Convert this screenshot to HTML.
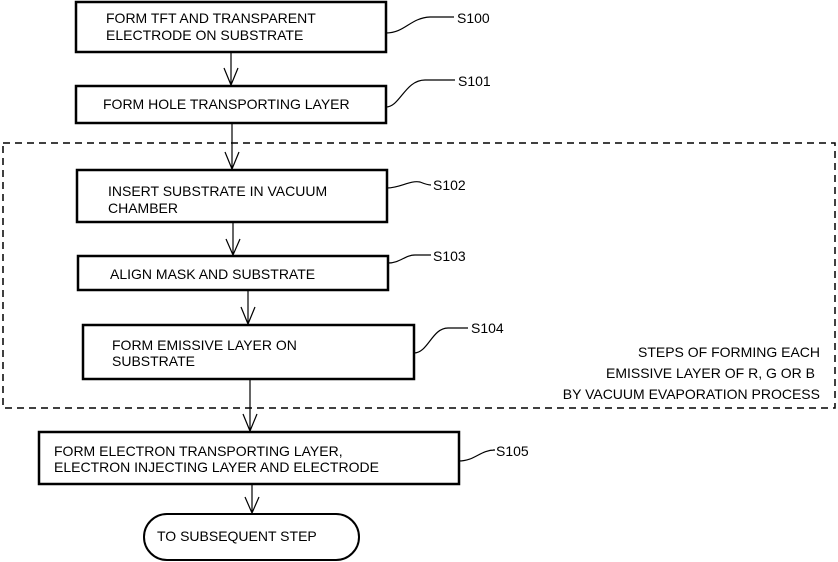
<!DOCTYPE html>
<html><head><meta charset="utf-8"><style>
html,body{margin:0;padding:0;background:#fff;}
svg{display:block;}
text{font-family:"Liberation Sans",Arial,sans-serif;font-size:14px;fill:#000;}
</style></head><body>
<svg width="838" height="562" viewBox="0 0 838 562" xmlns="http://www.w3.org/2000/svg">
<g fill="none" stroke="#000">
<rect x="76" y="2" width="310" height="50" stroke-width="2.5"/>
<rect x="76" y="86" width="310" height="37" stroke-width="2.5"/>
<rect x="3" y="143" width="832" height="265" stroke-width="1.5" stroke-dasharray="7,5"/>
<rect x="77" y="170" width="310" height="52" stroke-width="2.5"/>
<rect x="78" y="256" width="310" height="34" stroke-width="2.5"/>
<rect x="83" y="325" width="331" height="54" stroke-width="2.5"/>
<rect x="39" y="432" width="420" height="52" stroke-width="2.5"/>
<rect x="144" y="514" width="215" height="46" rx="23" stroke-width="2"/>
<g stroke-width="1.2">
<path d="M231 52V86M224 68L231 85L238 68"/>
<path d="M232 123V170M225 152L232 169L239 152"/>
<path d="M233 222V256M226 239L233 255L240 239"/>
<path d="M248 290V325M241 307L248 324L255 307"/>
<path d="M250 379V432M243 414L250 431L257 414"/>
<path d="M252 484V514M245 497L252 513L259 497"/>
<path d="M386 33C405 33 410 18 430 17L454 17"/>
<path d="M386 107C400 107 405 80 425 80L455 80"/>
<path d="M387 188C400 188 410 180 420 182C425 184 428 185 431 185"/>
<path d="M388 263C400 263 405 255 415 255L431 255"/>
<path d="M414 353C428 353 432 328 448 328L468 328"/>
<path d="M459 461C475 461 480 450 495 450L493 450"/>
</g>
</g>
<text x="106" y="23">FORM TFT AND TRANSPARENT</text>
<text x="106" y="40">ELECTRODE ON SUBSTRATE</text>
<text x="103" y="109">FORM HOLE TRANSPORTING  LAYER</text>
<text x="108" y="196">INSERT SUBSTRATE IN VACUUM</text>
<text x="108" y="213">CHAMBER</text>
<text x="110" y="279">ALIGN  MASK AND SUBSTRATE</text>
<text x="112" y="350">FORM  EMISSIVE LAYER ON</text>
<text x="112" y="366">SUBSTRATE</text>
<text x="54" y="456">FORM  ELECTRON TRANSPORTING  LAYER,</text>
<text x="54" y="472">ELECTRON  INJECTING  LAYER AND ELECTRODE</text>
<text x="157" y="541">TO SUBSEQUENT STEP</text>
<text x="457" y="23">S100</text>
<text x="458" y="86">S101</text>
<text x="433" y="190">S102</text>
<text x="433" y="261">S103</text>
<text x="471" y="333">S104</text>
<text x="496" y="456">S105</text>
<text x="820" y="357" text-anchor="end">STEPS OF FORMING EACH</text>
<text x="815" y="378" text-anchor="end">EMISSIVE  LAYER OF  R, G OR B</text>
<text x="820" y="399" text-anchor="end">BY VACUUM  EVAPORATION  PROCESS</text>
</svg>
</body></html>
